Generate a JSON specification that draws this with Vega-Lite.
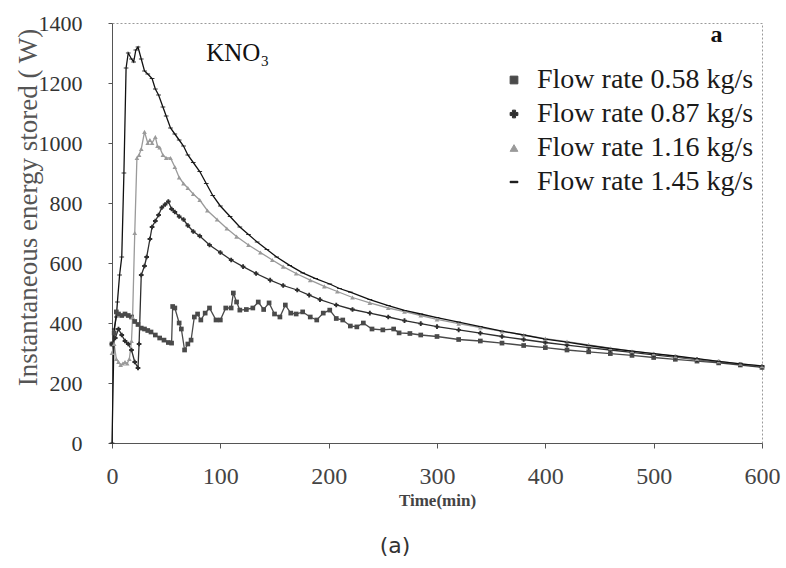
{
  "$schema": "https://vega.github.io/schema/vega-lite/v6.json",
  "width": 650,
  "height": 420,
  "autosize": {"type": "none"},
  "padding": {"left": 112, "top": 23, "right": 24, "bottom": 125},
  "background": "white",
  "config": {
    "view": {"stroke": "#9a9a9a", "strokeDash": [2, 2], "strokeWidth": 1},
    "font": "Liberation Serif",
    "axis": {"grid": false, "labelFont": "Liberation Serif", "titleFont": "Liberation Serif", "domainColor": "#555", "tickColor": "#555"},
    "legend": {"labelFont": "Liberation Serif", "titleFont": "Liberation Serif"}
  },
  "title": {"text": "(a)", "orient": "bottom", "anchor": "middle", "dx": -42, "offset": 28, "font": "DejaVu Sans", "fontSize": 22, "fontWeight": "normal", "color": "#333"},
  "datasets": {
    "curves": [
      {"series": "Flow rate  0.58 kg/s", "t": 0, "v": 330},
      {"series": "Flow rate  0.58 kg/s", "t": 2, "v": 367},
      {"series": "Flow rate  0.58 kg/s", "t": 4, "v": 437},
      {"series": "Flow rate  0.58 kg/s", "t": 6, "v": 430},
      {"series": "Flow rate  0.58 kg/s", "t": 9, "v": 425},
      {"series": "Flow rate  0.58 kg/s", "t": 12, "v": 430},
      {"series": "Flow rate  0.58 kg/s", "t": 15, "v": 425},
      {"series": "Flow rate  0.58 kg/s", "t": 18, "v": 420},
      {"series": "Flow rate  0.58 kg/s", "t": 21, "v": 405},
      {"series": "Flow rate  0.58 kg/s", "t": 24, "v": 395},
      {"series": "Flow rate  0.58 kg/s", "t": 27, "v": 383},
      {"series": "Flow rate  0.58 kg/s", "t": 30, "v": 380},
      {"series": "Flow rate  0.58 kg/s", "t": 33, "v": 375},
      {"series": "Flow rate  0.58 kg/s", "t": 36, "v": 370},
      {"series": "Flow rate  0.58 kg/s", "t": 40, "v": 360},
      {"series": "Flow rate  0.58 kg/s", "t": 44, "v": 350},
      {"series": "Flow rate  0.58 kg/s", "t": 48, "v": 343},
      {"series": "Flow rate  0.58 kg/s", "t": 52, "v": 335},
      {"series": "Flow rate  0.58 kg/s", "t": 55, "v": 333},
      {"series": "Flow rate  0.58 kg/s", "t": 56, "v": 455},
      {"series": "Flow rate  0.58 kg/s", "t": 58, "v": 450},
      {"series": "Flow rate  0.58 kg/s", "t": 62, "v": 400},
      {"series": "Flow rate  0.58 kg/s", "t": 64, "v": 380},
      {"series": "Flow rate  0.58 kg/s", "t": 67, "v": 310},
      {"series": "Flow rate  0.58 kg/s", "t": 70, "v": 330},
      {"series": "Flow rate  0.58 kg/s", "t": 73, "v": 343},
      {"series": "Flow rate  0.58 kg/s", "t": 76, "v": 420},
      {"series": "Flow rate  0.58 kg/s", "t": 79, "v": 430},
      {"series": "Flow rate  0.58 kg/s", "t": 82, "v": 410},
      {"series": "Flow rate  0.58 kg/s", "t": 86, "v": 433},
      {"series": "Flow rate  0.58 kg/s", "t": 90, "v": 450},
      {"series": "Flow rate  0.58 kg/s", "t": 96, "v": 410},
      {"series": "Flow rate  0.58 kg/s", "t": 100, "v": 410},
      {"series": "Flow rate  0.58 kg/s", "t": 105, "v": 450},
      {"series": "Flow rate  0.58 kg/s", "t": 110, "v": 450},
      {"series": "Flow rate  0.58 kg/s", "t": 112, "v": 500},
      {"series": "Flow rate  0.58 kg/s", "t": 115, "v": 470},
      {"series": "Flow rate  0.58 kg/s", "t": 118, "v": 443},
      {"series": "Flow rate  0.58 kg/s", "t": 124, "v": 445},
      {"series": "Flow rate  0.58 kg/s", "t": 130, "v": 450},
      {"series": "Flow rate  0.58 kg/s", "t": 135, "v": 470},
      {"series": "Flow rate  0.58 kg/s", "t": 140, "v": 445},
      {"series": "Flow rate  0.58 kg/s", "t": 145, "v": 467},
      {"series": "Flow rate  0.58 kg/s", "t": 150, "v": 430},
      {"series": "Flow rate  0.58 kg/s", "t": 155, "v": 420},
      {"series": "Flow rate  0.58 kg/s", "t": 160, "v": 460},
      {"series": "Flow rate  0.58 kg/s", "t": 165, "v": 433},
      {"series": "Flow rate  0.58 kg/s", "t": 170, "v": 430},
      {"series": "Flow rate  0.58 kg/s", "t": 176, "v": 437},
      {"series": "Flow rate  0.58 kg/s", "t": 183, "v": 420},
      {"series": "Flow rate  0.58 kg/s", "t": 189, "v": 410},
      {"series": "Flow rate  0.58 kg/s", "t": 195, "v": 433},
      {"series": "Flow rate  0.58 kg/s", "t": 201, "v": 443},
      {"series": "Flow rate  0.58 kg/s", "t": 207, "v": 415},
      {"series": "Flow rate  0.58 kg/s", "t": 213, "v": 410},
      {"series": "Flow rate  0.58 kg/s", "t": 220, "v": 390},
      {"series": "Flow rate  0.58 kg/s", "t": 226, "v": 387},
      {"series": "Flow rate  0.58 kg/s", "t": 232, "v": 400},
      {"series": "Flow rate  0.58 kg/s", "t": 240, "v": 380},
      {"series": "Flow rate  0.58 kg/s", "t": 250, "v": 377},
      {"series": "Flow rate  0.58 kg/s", "t": 260, "v": 380},
      {"series": "Flow rate  0.58 kg/s", "t": 265, "v": 367},
      {"series": "Flow rate  0.58 kg/s", "t": 275, "v": 365},
      {"series": "Flow rate  0.58 kg/s", "t": 285, "v": 360},
      {"series": "Flow rate  0.58 kg/s", "t": 300, "v": 355},
      {"series": "Flow rate  0.58 kg/s", "t": 320, "v": 345},
      {"series": "Flow rate  0.58 kg/s", "t": 340, "v": 340},
      {"series": "Flow rate  0.58 kg/s", "t": 360, "v": 333},
      {"series": "Flow rate  0.58 kg/s", "t": 380, "v": 325},
      {"series": "Flow rate  0.58 kg/s", "t": 400, "v": 318},
      {"series": "Flow rate  0.58 kg/s", "t": 420, "v": 310},
      {"series": "Flow rate  0.58 kg/s", "t": 440, "v": 304},
      {"series": "Flow rate  0.58 kg/s", "t": 460, "v": 298},
      {"series": "Flow rate  0.58 kg/s", "t": 480, "v": 292},
      {"series": "Flow rate  0.58 kg/s", "t": 500, "v": 285},
      {"series": "Flow rate  0.58 kg/s", "t": 520, "v": 279},
      {"series": "Flow rate  0.58 kg/s", "t": 540, "v": 273},
      {"series": "Flow rate  0.58 kg/s", "t": 560, "v": 267},
      {"series": "Flow rate  0.58 kg/s", "t": 580, "v": 260},
      {"series": "Flow rate  0.58 kg/s", "t": 600, "v": 252},

      {"series": "Flow  rate 0.87 kg/s", "t": 0, "v": 330},
      {"series": "Flow  rate 0.87 kg/s", "t": 3, "v": 350},
      {"series": "Flow  rate 0.87 kg/s", "t": 6, "v": 380},
      {"series": "Flow  rate 0.87 kg/s", "t": 9, "v": 360},
      {"series": "Flow  rate 0.87 kg/s", "t": 12, "v": 340},
      {"series": "Flow  rate 0.87 kg/s", "t": 15, "v": 330},
      {"series": "Flow  rate 0.87 kg/s", "t": 18, "v": 310},
      {"series": "Flow  rate 0.87 kg/s", "t": 21, "v": 270},
      {"series": "Flow  rate 0.87 kg/s", "t": 24, "v": 250},
      {"series": "Flow  rate 0.87 kg/s", "t": 25, "v": 330},
      {"series": "Flow  rate 0.87 kg/s", "t": 27, "v": 560},
      {"series": "Flow  rate 0.87 kg/s", "t": 30, "v": 590},
      {"series": "Flow  rate 0.87 kg/s", "t": 32, "v": 620},
      {"series": "Flow  rate 0.87 kg/s", "t": 35, "v": 680},
      {"series": "Flow  rate 0.87 kg/s", "t": 37, "v": 720},
      {"series": "Flow  rate 0.87 kg/s", "t": 40, "v": 740},
      {"series": "Flow  rate 0.87 kg/s", "t": 43, "v": 760},
      {"series": "Flow  rate 0.87 kg/s", "t": 46, "v": 785},
      {"series": "Flow  rate 0.87 kg/s", "t": 49, "v": 795},
      {"series": "Flow  rate 0.87 kg/s", "t": 52, "v": 805},
      {"series": "Flow  rate 0.87 kg/s", "t": 55, "v": 780},
      {"series": "Flow  rate 0.87 kg/s", "t": 58, "v": 770},
      {"series": "Flow  rate 0.87 kg/s", "t": 62, "v": 755},
      {"series": "Flow  rate 0.87 kg/s", "t": 66, "v": 745},
      {"series": "Flow  rate 0.87 kg/s", "t": 70, "v": 725},
      {"series": "Flow  rate 0.87 kg/s", "t": 75, "v": 705},
      {"series": "Flow  rate 0.87 kg/s", "t": 81, "v": 690},
      {"series": "Flow  rate 0.87 kg/s", "t": 90, "v": 660},
      {"series": "Flow  rate 0.87 kg/s", "t": 100, "v": 635},
      {"series": "Flow  rate 0.87 kg/s", "t": 110, "v": 610},
      {"series": "Flow  rate 0.87 kg/s", "t": 121, "v": 588},
      {"series": "Flow  rate 0.87 kg/s", "t": 133, "v": 565},
      {"series": "Flow  rate 0.87 kg/s", "t": 146, "v": 543},
      {"series": "Flow  rate 0.87 kg/s", "t": 158, "v": 525},
      {"series": "Flow  rate 0.87 kg/s", "t": 171, "v": 510},
      {"series": "Flow  rate 0.87 kg/s", "t": 182, "v": 493},
      {"series": "Flow  rate 0.87 kg/s", "t": 192, "v": 478},
      {"series": "Flow  rate 0.87 kg/s", "t": 207, "v": 460},
      {"series": "Flow  rate 0.87 kg/s", "t": 222, "v": 445},
      {"series": "Flow  rate 0.87 kg/s", "t": 238, "v": 433},
      {"series": "Flow  rate 0.87 kg/s", "t": 255, "v": 420},
      {"series": "Flow  rate 0.87 kg/s", "t": 270, "v": 408},
      {"series": "Flow  rate 0.87 kg/s", "t": 285, "v": 398},
      {"series": "Flow  rate 0.87 kg/s", "t": 300, "v": 388},
      {"series": "Flow  rate 0.87 kg/s", "t": 320, "v": 377},
      {"series": "Flow  rate 0.87 kg/s", "t": 340, "v": 366},
      {"series": "Flow  rate 0.87 kg/s", "t": 360, "v": 355},
      {"series": "Flow  rate 0.87 kg/s", "t": 380, "v": 345},
      {"series": "Flow  rate 0.87 kg/s", "t": 400, "v": 335},
      {"series": "Flow  rate 0.87 kg/s", "t": 420, "v": 326},
      {"series": "Flow  rate 0.87 kg/s", "t": 440, "v": 318},
      {"series": "Flow  rate 0.87 kg/s", "t": 460, "v": 310},
      {"series": "Flow  rate 0.87 kg/s", "t": 480, "v": 302},
      {"series": "Flow  rate 0.87 kg/s", "t": 500, "v": 294},
      {"series": "Flow  rate 0.87 kg/s", "t": 520, "v": 286},
      {"series": "Flow  rate 0.87 kg/s", "t": 540, "v": 278},
      {"series": "Flow  rate 0.87 kg/s", "t": 560, "v": 270},
      {"series": "Flow  rate 0.87 kg/s", "t": 580, "v": 262},
      {"series": "Flow  rate 0.87 kg/s", "t": 600, "v": 254},

      {"series": "Flow rate 1.16 kg/s", "t": 0, "v": 300},
      {"series": "Flow rate 1.16 kg/s", "t": 2, "v": 330},
      {"series": "Flow rate 1.16 kg/s", "t": 4, "v": 280},
      {"series": "Flow rate 1.16 kg/s", "t": 6, "v": 270},
      {"series": "Flow rate 1.16 kg/s", "t": 8, "v": 260},
      {"series": "Flow rate 1.16 kg/s", "t": 10, "v": 265},
      {"series": "Flow rate 1.16 kg/s", "t": 12, "v": 270},
      {"series": "Flow rate 1.16 kg/s", "t": 14, "v": 265},
      {"series": "Flow rate 1.16 kg/s", "t": 16, "v": 280},
      {"series": "Flow rate 1.16 kg/s", "t": 18, "v": 340},
      {"series": "Flow rate 1.16 kg/s", "t": 19, "v": 420},
      {"series": "Flow rate 1.16 kg/s", "t": 21, "v": 700},
      {"series": "Flow rate 1.16 kg/s", "t": 23, "v": 950},
      {"series": "Flow rate 1.16 kg/s", "t": 25, "v": 960},
      {"series": "Flow rate 1.16 kg/s", "t": 27, "v": 980},
      {"series": "Flow rate 1.16 kg/s", "t": 30, "v": 1037},
      {"series": "Flow rate 1.16 kg/s", "t": 33, "v": 1000},
      {"series": "Flow rate 1.16 kg/s", "t": 35, "v": 1010},
      {"series": "Flow rate 1.16 kg/s", "t": 37, "v": 1000},
      {"series": "Flow rate 1.16 kg/s", "t": 40, "v": 1020},
      {"series": "Flow rate 1.16 kg/s", "t": 42, "v": 990},
      {"series": "Flow rate 1.16 kg/s", "t": 44, "v": 985},
      {"series": "Flow rate 1.16 kg/s", "t": 47, "v": 960},
      {"series": "Flow rate 1.16 kg/s", "t": 50, "v": 950},
      {"series": "Flow rate 1.16 kg/s", "t": 54, "v": 950},
      {"series": "Flow rate 1.16 kg/s", "t": 58, "v": 920},
      {"series": "Flow rate 1.16 kg/s", "t": 62, "v": 885},
      {"series": "Flow rate 1.16 kg/s", "t": 66, "v": 865},
      {"series": "Flow rate 1.16 kg/s", "t": 70, "v": 850},
      {"series": "Flow rate 1.16 kg/s", "t": 75, "v": 830},
      {"series": "Flow rate 1.16 kg/s", "t": 81, "v": 810},
      {"series": "Flow rate 1.16 kg/s", "t": 88, "v": 775},
      {"series": "Flow rate 1.16 kg/s", "t": 97, "v": 745},
      {"series": "Flow rate 1.16 kg/s", "t": 106, "v": 715},
      {"series": "Flow rate 1.16 kg/s", "t": 115, "v": 688},
      {"series": "Flow rate 1.16 kg/s", "t": 126, "v": 660},
      {"series": "Flow rate 1.16 kg/s", "t": 137, "v": 635},
      {"series": "Flow rate 1.16 kg/s", "t": 148, "v": 610},
      {"series": "Flow rate 1.16 kg/s", "t": 158, "v": 588},
      {"series": "Flow rate 1.16 kg/s", "t": 170, "v": 565},
      {"series": "Flow rate 1.16 kg/s", "t": 183, "v": 543},
      {"series": "Flow rate 1.16 kg/s", "t": 196, "v": 522},
      {"series": "Flow rate 1.16 kg/s", "t": 208, "v": 505},
      {"series": "Flow rate 1.16 kg/s", "t": 222, "v": 485},
      {"series": "Flow rate 1.16 kg/s", "t": 238, "v": 467},
      {"series": "Flow rate 1.16 kg/s", "t": 255, "v": 450},
      {"series": "Flow rate 1.16 kg/s", "t": 270, "v": 438},
      {"series": "Flow rate 1.16 kg/s", "t": 285, "v": 425},
      {"series": "Flow rate 1.16 kg/s", "t": 300, "v": 412},
      {"series": "Flow rate 1.16 kg/s", "t": 320, "v": 398},
      {"series": "Flow rate 1.16 kg/s", "t": 340, "v": 385},
      {"series": "Flow rate 1.16 kg/s", "t": 360, "v": 372},
      {"series": "Flow rate 1.16 kg/s", "t": 380, "v": 360},
      {"series": "Flow rate 1.16 kg/s", "t": 400, "v": 348},
      {"series": "Flow rate 1.16 kg/s", "t": 420, "v": 338},
      {"series": "Flow rate 1.16 kg/s", "t": 440, "v": 327},
      {"series": "Flow rate 1.16 kg/s", "t": 460, "v": 316},
      {"series": "Flow rate 1.16 kg/s", "t": 480, "v": 306},
      {"series": "Flow rate 1.16 kg/s", "t": 500, "v": 298},
      {"series": "Flow rate 1.16 kg/s", "t": 520, "v": 289},
      {"series": "Flow rate 1.16 kg/s", "t": 540, "v": 280},
      {"series": "Flow rate 1.16 kg/s", "t": 560, "v": 272},
      {"series": "Flow rate 1.16 kg/s", "t": 580, "v": 264},
      {"series": "Flow rate 1.16 kg/s", "t": 600, "v": 256},

      {"series": "Flow rate 1.45 kg/s", "t": 0, "v": 0},
      {"series": "Flow rate 1.45 kg/s", "t": 2, "v": 380},
      {"series": "Flow rate 1.45 kg/s", "t": 4, "v": 420},
      {"series": "Flow rate 1.45 kg/s", "t": 5, "v": 470},
      {"series": "Flow rate 1.45 kg/s", "t": 7, "v": 560},
      {"series": "Flow rate 1.45 kg/s", "t": 9, "v": 620},
      {"series": "Flow rate 1.45 kg/s", "t": 11, "v": 900},
      {"series": "Flow rate 1.45 kg/s", "t": 13, "v": 1250},
      {"series": "Flow rate 1.45 kg/s", "t": 15, "v": 1300},
      {"series": "Flow rate 1.45 kg/s", "t": 18, "v": 1280},
      {"series": "Flow rate 1.45 kg/s", "t": 20, "v": 1270},
      {"series": "Flow rate 1.45 kg/s", "t": 22, "v": 1310},
      {"series": "Flow rate 1.45 kg/s", "t": 24, "v": 1320},
      {"series": "Flow rate 1.45 kg/s", "t": 27, "v": 1280},
      {"series": "Flow rate 1.45 kg/s", "t": 30, "v": 1240},
      {"series": "Flow rate 1.45 kg/s", "t": 33, "v": 1230},
      {"series": "Flow rate 1.45 kg/s", "t": 37, "v": 1215},
      {"series": "Flow rate 1.45 kg/s", "t": 40, "v": 1180},
      {"series": "Flow rate 1.45 kg/s", "t": 43, "v": 1160},
      {"series": "Flow rate 1.45 kg/s", "t": 47, "v": 1120},
      {"series": "Flow rate 1.45 kg/s", "t": 50, "v": 1090},
      {"series": "Flow rate 1.45 kg/s", "t": 54, "v": 1050},
      {"series": "Flow rate 1.45 kg/s", "t": 58, "v": 1030},
      {"series": "Flow rate 1.45 kg/s", "t": 62, "v": 1010},
      {"series": "Flow rate 1.45 kg/s", "t": 66, "v": 990},
      {"series": "Flow rate 1.45 kg/s", "t": 70, "v": 960},
      {"series": "Flow rate 1.45 kg/s", "t": 75, "v": 935},
      {"series": "Flow rate 1.45 kg/s", "t": 81, "v": 905},
      {"series": "Flow rate 1.45 kg/s", "t": 87, "v": 865},
      {"series": "Flow rate 1.45 kg/s", "t": 93, "v": 825},
      {"series": "Flow rate 1.45 kg/s", "t": 100, "v": 790},
      {"series": "Flow rate 1.45 kg/s", "t": 109, "v": 755},
      {"series": "Flow rate 1.45 kg/s", "t": 118, "v": 720},
      {"series": "Flow rate 1.45 kg/s", "t": 126, "v": 695},
      {"series": "Flow rate 1.45 kg/s", "t": 134, "v": 670},
      {"series": "Flow rate 1.45 kg/s", "t": 143, "v": 645},
      {"series": "Flow rate 1.45 kg/s", "t": 152, "v": 620},
      {"series": "Flow rate 1.45 kg/s", "t": 164, "v": 592},
      {"series": "Flow rate 1.45 kg/s", "t": 176, "v": 567},
      {"series": "Flow rate 1.45 kg/s", "t": 188, "v": 548},
      {"series": "Flow rate 1.45 kg/s", "t": 201, "v": 530},
      {"series": "Flow rate 1.45 kg/s", "t": 210, "v": 515},
      {"series": "Flow rate 1.45 kg/s", "t": 220, "v": 503},
      {"series": "Flow rate 1.45 kg/s", "t": 238, "v": 478},
      {"series": "Flow rate 1.45 kg/s", "t": 255, "v": 458},
      {"series": "Flow rate 1.45 kg/s", "t": 270, "v": 442},
      {"series": "Flow rate 1.45 kg/s", "t": 285, "v": 430},
      {"series": "Flow rate 1.45 kg/s", "t": 300, "v": 418},
      {"series": "Flow rate 1.45 kg/s", "t": 320, "v": 403},
      {"series": "Flow rate 1.45 kg/s", "t": 340, "v": 388},
      {"series": "Flow rate 1.45 kg/s", "t": 360, "v": 373},
      {"series": "Flow rate 1.45 kg/s", "t": 380, "v": 360},
      {"series": "Flow rate 1.45 kg/s", "t": 400, "v": 346},
      {"series": "Flow rate 1.45 kg/s", "t": 420, "v": 336},
      {"series": "Flow rate 1.45 kg/s", "t": 440, "v": 325},
      {"series": "Flow rate 1.45 kg/s", "t": 460, "v": 315},
      {"series": "Flow rate 1.45 kg/s", "t": 480, "v": 306},
      {"series": "Flow rate 1.45 kg/s", "t": 500, "v": 298},
      {"series": "Flow rate 1.45 kg/s", "t": 520, "v": 290},
      {"series": "Flow rate 1.45 kg/s", "t": 540, "v": 281},
      {"series": "Flow rate 1.45 kg/s", "t": 560, "v": 272},
      {"series": "Flow rate 1.45 kg/s", "t": 580, "v": 264},
      {"series": "Flow rate 1.45 kg/s", "t": 600, "v": 257}
    ]
  },
  "layer": [
    {
      "data": {"name": "curves"},
      "mark": {"type": "line", "strokeWidth": 1.3},
      "encoding": {
        "x": {"field": "t", "type": "quantitative", "scale": {"domain": [0, 600], "nice": false},
          "axis": {"values": [0, 100, 200, 300, 400, 500, 600], "format": "d", "title": "Time(min)", "titleFontSize": 17, "titleFontWeight": "bold", "titleColor": "#444", "titleY": 57, "titleBaseline": "middle", "labelFontSize": 24, "labelColor": "#444", "labelPadding": 16, "tickSize": 5, "labelFlush": false}},
        "y": {"field": "v", "type": "quantitative", "scale": {"domain": [0, 1400], "nice": false},
          "axis": {"values": [0, 200, 400, 600, 800, 1000, 1200, 1400], "format": "d", "title": "Instantaneous energy stored ( W)", "titleFontSize": 27, "titleFontWeight": "normal", "titleColor": "#555", "titleX": -84, "titleY": 184, "titleBaseline": "middle", "labelFontSize": 22, "labelColor": "#333", "labelPadding": 26, "tickSize": 4, "labelFlush": false}},
        "color": {"field": "series", "type": "nominal",
          "scale": {"domain": ["Flow rate  0.58 kg/s", "Flow  rate 0.87 kg/s", "Flow rate 1.16 kg/s", "Flow rate 1.45 kg/s"], "range": ["#4a4a4a", "#2e2e2e", "#9a9a9a", "#111111"]},
          "legend": {"title": null, "orient": "none", "legendX": 388, "legendY": 43, "labelFont": "Liberation Serif", "labelFontSize": 28, "labelColor": "#1a1a1a", "labelOffset": 9, "rowPadding": 6, "symbolSize": 60, "symbolStrokeWidth": 1, "labelLimit": 400}}
      }
    },
    {
      "data": {"name": "curves"},
      "mark": {"type": "point", "filled": true, "size": 22, "opacity": 1},
      "encoding": {
        "x": {"field": "t", "type": "quantitative"},
        "y": {"field": "v", "type": "quantitative"},
        "color": {"field": "series", "type": "nominal"},
        "shape": {"field": "series", "type": "nominal",
          "scale": {"domain": ["Flow rate  0.58 kg/s", "Flow  rate 0.87 kg/s", "Flow rate 1.16 kg/s", "Flow rate 1.45 kg/s"], "range": ["square", "cross", "triangle-up", "M-1,-0.18L1,-0.18L1,0.18L-1,0.18Z"]}}
      }
    },
    {
      "data": {"values": [{}]},
      "mark": {"type": "text", "font": "Liberation Serif", "fontSize": 25, "color": "#111", "align": "center", "baseline": "middle"},
      "encoding": {"x": {"datum": 116}, "y": {"datum": 1300}, "text": {"value": "KNO₃"}}
    },
    {
      "data": {"values": [{}]},
      "mark": {"type": "text", "font": "Liberation Serif", "fontSize": 24, "fontWeight": "bold", "color": "#111", "align": "center", "baseline": "middle"},
      "encoding": {"x": {"datum": 558}, "y": {"datum": 1360}, "text": {"value": "a"}}
    }
  ]
}
